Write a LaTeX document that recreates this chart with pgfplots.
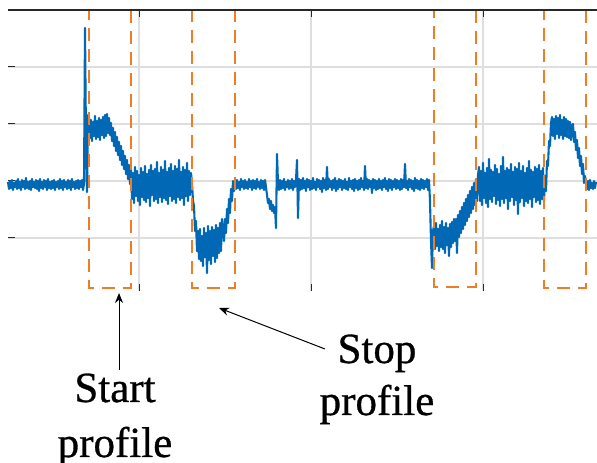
\documentclass[border=0pt]{standalone}
\usepackage{pgfplots}
\usepackage{pgfplotstable}
\pgfplotsset{compat=1.18}
\usepackage{fontspec}
\setmainfont{Liberation Serif}
\newfontfamily\tnr{Liberation Serif}[FakeBold=0.7]
\usetikzlibrary{arrows.meta}
\definecolor{sigblue}{RGB}{0,104,180}
\definecolor{boxorange}{RGB}{238,125,40}
\definecolor{gridgray}{RGB}{222,222,222}
\definecolor{axdark}{RGB}{40,40,40}

\pgfplotstableread[header=false,row sep=\\]{
-1\\-8\\0\\-7\\1\\-9\\-2\\-6\\0\\-8\\2\\-7\\-1\\-9\\1\\-6\\0\\-8\\3\\-7\\
-1\\-8\\0\\-9\\2\\-6\\-1\\-7\\1\\-8\\0\\-10\\2\\-7\\-1\\-8\\1\\-6\\0\\-9\\
2\\-7\\-1\\-8\\0\\-7\\1\\-9\\-1\\-6\\0\\-8\\2\\-7\\0\\-9\\1\\-6\\-1\\-8\\
1\\-7\\0\\-9\\2\\-6\\-1\\-8\\0\\-7\\1\\-8\\0\\-6\\1\\-9\\
-3\\153\\40\\-11\\66\\
64\\43\\61\\40\\59\\45\\65\\42\\60\\44\\63\\41\\61\\46\\64\\43\\66\\45\\67\\48\\63\\46\\
58\\40\\53\\35\\49\\30\\44\\26\\39\\21\\35\\16\\30\\12\\25\\7\\21\\2\\16\\-3\\
12\\-18\\8\\-22\\14\\-15\\10\\-20\\6\\-24\\13\\-16\\9\\-19\\15\\-21\\7\\-17\\11\\-25\\
16\\-14\\10\\-20\\12\\-18\\19\\-22\\8\\-16\\14\\-21\\11\\-17\\20\\-19\\9\\-23\\13\\-15\\
17\\-20\\10\\-18\\15\\-22\\12\\-16\\21\\-19\\9\\-17\\14\\-24\\11\\-15\\18\\-20\\10\\-14\\
8\\
-2\\-20\\-25\\-50\\-40\\-70\\
-50\\-78\\-48\\-80\\-55\\-85\\-47\\-76\\-52\\-92\\-45\\-79\\-50\\-83\\-46\\-75\\-49\\-81\\-44\\-77\\-47\\-72\\-42\\-70\\-38\\
-48\\-60\\-38\\-52\\-28\\-42\\-18\\-32\\-8\\-20\\0\\-10\\
0\\-8\\1\\-7\\-1\\-9\\2\\-6\\0\\-8\\1\\-7\\-1\\-8\\2\\-6\\0\\-9\\1\\-7\\0\\-8\\2\\-6\\-1\\-8\\1\\-7\\0\\-9\\1\\
-6\\-14\\-22\\-18\\-28\\-20\\-30\\-24\\-32\\-26\\-47\\27\\-2\\-9\\
1\\-8\\0\\-7\\2\\-9\\-1\\-6\\1\\-8\\0\\-7\\2\\-9\\0\\-6\\1\\
21\\-37\\
2\\-9\\1\\-8\\3\\-7\\0\\-10\\2\\-6\\1\\-9\\0\\-8\\3\\-7\\-1\\-9\\2\\-6\\
1\\-8\\0\\-11\\3\\-7\\1\\-9\\14\\-8\\2\\-6\\0\\-9\\1\\-7\\3\\-10\\0\\-8\\
2\\-6\\1\\-9\\0\\-7\\2\\-8\\-1\\-9\\3\\-6\\0\\-8\\1\\-10\\2\\-7\\0\\-9\\
1\\-8\\3\\-6\\0\\-9\\15\\-7\\2\\-8\\1\\-6\\0\\-12\\2\\-7\\1\\-9\\0\\-8\\
2\\-7\\0\\-9\\1\\-6\\3\\-8\\0\\-10\\2\\-7\\1\\-9\\0\\-6\\2\\-8\\1\\-7\\
0\\-9\\2\\-8\\1\\-6\\17\\-7\\0\\-9\\2\\-6\\1\\-8\\0\\-10\\3\\-7\\1\\-8\\
0\\-9\\2\\-7\\1\\-8\\0\\-6\\2\\-9\\1\\
-20\\-60\\-87\\-50\\
-45\\-68\\-42\\-65\\-48\\-70\\-44\\-66\\-40\\-68\\-46\\-72\\-42\\-64\\-47\\-75\\-43\\-66\\-41\\-62\\-38\\-60\\
-38\\-72\\-34\\-56\\-30\\-52\\-26\\-48\\-22\\-44\\-18\\-40\\-14\\-36\\-10\\-32\\-6\\-28\\-2\\-24\\2\\-20\\6\\
14\\-20\\10\\-24\\18\\-17\\8\\-22\\13\\-26\\22\\-18\\11\\-21\\9\\-15\\16\\-23\\12\\-19\\
7\\-25\\15\\-18\\24\\-22\\10\\-17\\13\\-28\\11\\-20\\17\\-16\\9\\-24\\14\\-19\\12\\-33\\
18\\-21\\10\\-17\\15\\-25\\8\\-20\\13\\-22\\20\\-18\\11\\-26\\9\\-16\\14\\-21\\12\\-19\\
16\\-23\\10\\-18\\13\\-20\\
5\\-10\\20\\15\\40\\35\\58\\
64\\45\\62\\42\\65\\47\\63\\43\\66\\46\\61\\42\\64\\45\\62\\44\\60\\43\\59\\41\\56\\
57\\39\\49\\31\\41\\23\\33\\15\\25\\7\\17\\-2\\5\\
-1\\-8\\0\\-9\\1\\-7\\-2\\-8\\0\\-7\\-1\\
}\sig

\begin{document}
\begin{tikzpicture}
\useasboundingbox (0,0) rectangle (597pt,463pt);
\begin{axis}[
  at={(8pt,172pt)}, anchor=south west,
  scale only axis, width=589pt, height=281pt,
  xmin=0, xmax=589, ymin=-110, ymax=171,
  xtick={131,303,475}, ytick={-57,0,57,114},
  xticklabels={}, yticklabels={},
  xtick pos=both, ytick pos=left,
  tick align=inside, major tick length=7pt,
  tick style={draw=axdark, line width=1pt},
  grid=major, major grid style={draw=gridgray, line width=1.3pt},
  axis line style={draw=none},
  clip=false,
  extra description/.code={\draw[axdark, line width=1.5pt] (rel axis cs:0,1) -- (rel axis cs:1,1);},
]
\addplot[sigblue, line width=2.1pt, line join=round] table[x expr=\coordindex, y index=0] {\sig};
\addplot[boxorange, line width=2.3pt, dash pattern=on 13pt off 8pt] coordinates {(81,171)(123,171)(123,-107)(81,-107)(81,171)};
\addplot[boxorange, line width=2.3pt, dash pattern=on 13pt off 8pt] coordinates {(184,171)(227,171)(227,-107)(184,-107)(184,171)};
\addplot[boxorange, line width=2.3pt, dash pattern=on 13pt off 8pt] coordinates {(426,171)(468,171)(468,-106)(426,-106)(426,171)};
\addplot[boxorange, line width=2.3pt, dash pattern=on 13pt off 8pt] coordinates {(536,171)(578,171)(578,-107)(536,-107)(536,171)};
\end{axis}
\draw[line width=1pt, -{Stealth[length=10pt,width=8pt]}] (119pt,93pt) -- (119pt,170pt);
\draw[line width=1pt, -{Stealth[length=10pt,width=8pt]}] (325pt,114pt) -- (219pt,155pt);
\node[anchor=base, inner sep=0pt, font=\tnr\fontsize{43}{55}\selectfont] at (115pt,61pt) {Start};
\node[anchor=base, inner sep=0pt, font=\tnr\fontsize{43}{55}\selectfont] at (115pt,6pt) {profile};
\node[anchor=base, inner sep=0pt, font=\tnr\fontsize{43}{55}\selectfont] at (377pt,100pt) {Stop};
\node[anchor=base, inner sep=0pt, font=\tnr\fontsize{43}{55}\selectfont] at (377pt,48pt) {profile};
\end{tikzpicture}
\end{document}
